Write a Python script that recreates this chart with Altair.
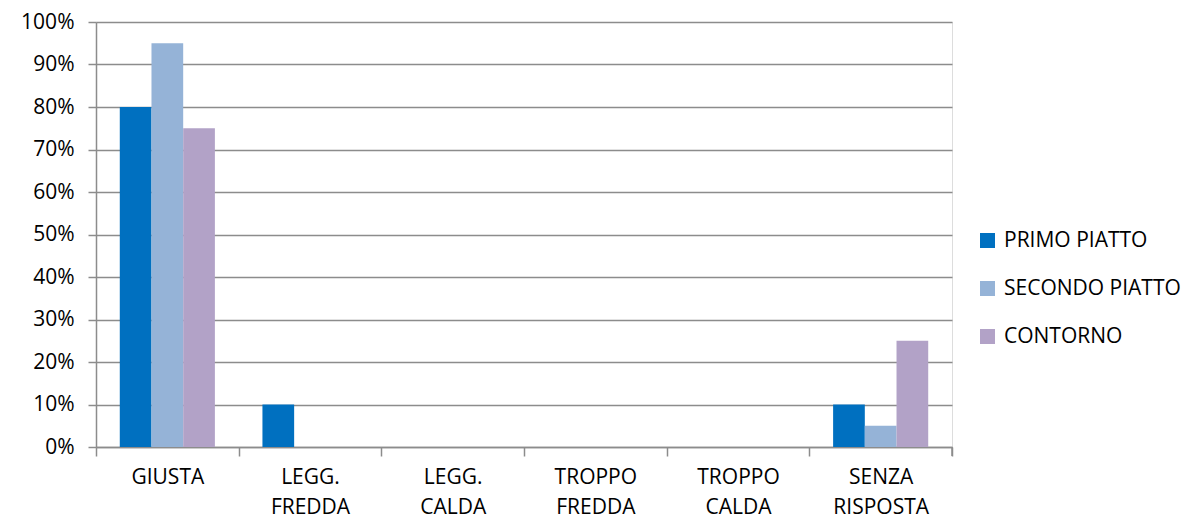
import altair as alt
import pandas as pd

categories = ["GIUSTA", "LEGG. FREDDA", "LEGG. CALDA", "TROPPO FREDDA", "TROPPO CALDA", "SENZA RISPOSTA"]
series = ["PRIMO PIATTO", "SECONDO PIATTO", "CONTORNO"]
primo = [0.80, 0.10, 0.0, 0.0, 0.0, 0.10]
secondo = [0.95, 0.0, 0.0, 0.0, 0.0, 0.05]
contorno = [0.75, 0.0, 0.0, 0.0, 0.0, 0.25]
colors = ["#0070C0", "#95B3D7", "#B2A2C7"]

rows = []
for s, vals in zip(series, [primo, secondo, contorno]):
    for c, v in zip(categories, vals):
        rows.append({"cat": c, "serie": s, "val": v})
df = pd.DataFrame(rows)

FONT = "Open Sans"
FS = 21
W, H = 856, 425
GRID = "#8c8c8c"

bars = alt.Chart(df).mark_bar().encode(
    x=alt.X("cat:N", sort=categories,
            scale=alt.Scale(paddingInner=0, paddingOuter=0),
            axis=alt.Axis(title=None, labelAngle=0, labelExpr="split(datum.label, ' ')",
                          labelFontSize=FS, labelFont=FONT, labelColor="#000",
                          labelLineHeight=30, labelPadding=10, labelBaseline="top",
                          tickBand="extent", tickSize=9, tickColor=GRID, tickWidth=1.5,
                          domainColor=GRID, domainWidth=1.5, grid=False)),
    xOffset=alt.XOffset("serie:N", sort=series,
                        scale=alt.Scale(paddingInner=0, paddingOuter=0.75)),
    y=alt.Y("val:Q", scale=alt.Scale(domain=[0, 1], nice=False),
            axis=alt.Axis(title=None, format=".0%", values=[i / 10 for i in range(11)],
                          labelFontSize=FS, labelFont=FONT, labelColor="#000",
                          labelPadding=14, tickSize=8, tickColor=GRID, tickWidth=1.5,
                          domainColor=GRID, domainWidth=1.5,
                          gridColor=GRID, gridWidth=1.5)),
    color=alt.Color("serie:N", sort=series,
                    scale=alt.Scale(domain=series, range=colors),
                    legend=alt.Legend(title=None, orient="none", legendX=881, legendY=208,
                                      symbolType="square", symbolSize=225,
                                      symbolStrokeWidth=0, labelFontSize=FS, labelFont=FONT,
                                      labelColor="#000", rowPadding=26, labelOffset=6,
                                      labelLimit=300)),
)

endtick = alt.Chart(pd.DataFrame({"a": [0]})).mark_rule(color=GRID, strokeWidth=1.5).encode(
    x=alt.value(W), y=alt.value(H), y2=alt.value(H + 9)
)

chart = alt.layer(bars, endtick).properties(
    width=W, height=H,
    autosize=alt.AutoSizeParams(type="none"),
    padding={"left": 88, "top": 14, "right": 234, "bottom": 74},
).configure_view(stroke=None).configure(background="white")

chart.save("out.html", embed_options={"renderer": "svg", "actions": False})
